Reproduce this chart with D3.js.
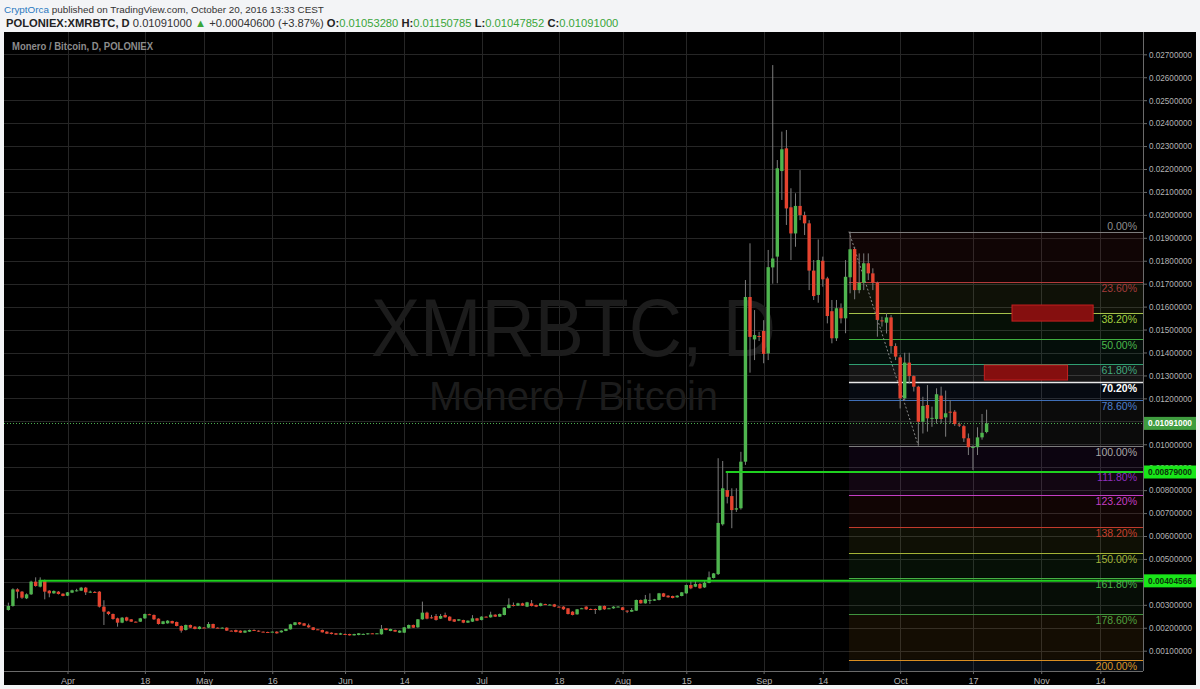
<!DOCTYPE html>
<html><head><meta charset="utf-8">
<script src="https://cdn.jsdelivr.net/npm/d3@7"></script>
<style>
html,body{margin:0;padding:0;background:#f3f4f6;}
svg{display:block;font-family:"Liberation Sans",Arial,sans-serif;}
</style></head><body>
<svg id="c" width="1200" height="689"></svg>
<script>
// ---------- DATA ----------
const firstCandleDate = "2016-03-19"; // daily candles, one per day
const openV = [
2.775e-3,2.949e-3,3.675e-3,3.574e-3,3.283e-3,3.457e-3,4.010e-3,3.792e-3,4.053e-3,3.617e-3,
3.501e-3,3.574e-3,3.486e-3,3.399e-3,3.530e-3,3.603e-3,3.617e-3,3.748e-3,3.545e-3,3.560e-3,
3.574e-3,2.920e-3,2.702e-3,2.600e-3,2.411e-3,2.222e-3,2.455e-3,2.368e-3,2.266e-3,2.266e-3,
2.411e-3,2.590e-3,2.557e-3,2.397e-3,2.164e-3,2.193e-3,2.295e-3,2.252e-3,2.077e-3,1.903e-3,
2.121e-3,2.048e-3,1.946e-3,2.010e-3,2.004e-3,2.164e-3,2.004e-3,2.000e-3,2.004e-3,1.874e-3,
1.903e-3,1.874e-3,1.787e-3,1.830e-3,1.903e-3,1.874e-3,1.830e-3,1.816e-3,1.826e-3,1.830e-3,
1.801e-3,1.859e-3,1.932e-3,2.121e-3,2.237e-3,2.193e-3,2.106e-3,2.019e-3,1.932e-3,1.903e-3,
1.830e-3,1.787e-3,1.758e-3,1.699e-3,1.728e-3,1.728e-3,1.670e-3,1.685e-3,1.728e-3,1.714e-3,
1.758e-3,1.754e-3,1.714e-3,1.975e-3,1.859e-3,1.903e-3,1.787e-3,1.787e-3,1.975e-3,2.121e-3,
2.019e-3,2.368e-3,2.659e-3,2.455e-3,2.513e-3,2.397e-3,2.557e-3,2.484e-3,2.368e-3,2.310e-3,
2.339e-3,2.222e-3,2.266e-3,2.411e-3,2.339e-3,2.484e-3,2.455e-3,2.571e-3,2.484e-3,2.557e-3,
2.862e-3,2.993e-3,2.964e-3,3.065e-3,2.920e-3,3.065e-3,2.993e-3,2.949e-3,3.036e-3,3.007e-3,
3.021e-3,2.920e-3,2.920e-3,2.847e-3,2.702e-3,2.586e-3,2.847e-3,2.920e-3,2.818e-3,2.818e-3,
2.775e-3,2.949e-3,2.847e-3,2.847e-3,2.920e-3,2.891e-3,2.746e-3,2.702e-3,2.746e-3,3.211e-3,
3.065e-3,3.211e-3,3.182e-3,3.211e-3,3.501e-3,3.399e-3,3.385e-3,3.327e-3,3.385e-3,3.501e-3,
3.864e-3,3.790e-3,3.910e-3,3.760e-3,3.960e-3,4.170e-3,4.340e-3,6.510e-3,8.000e-3,7.740e-3,
7.150e-3,7.210e-3,9.240e-3,16.420e-3,14.570e-3,14.720e-3,14.940e-3,13.960e-3,17.710e-3,18.180e-3,
21.910e-3,22.900e-3,20.330e-3,19.190e-3,20.390e-3,19.990e-3,19.630e-3,17.570e-3,16.510e-3,18.000e-3,
17.230e-3,15.800e-3,14.620e-3,15.930e-3,15.490e-3,17.280e-3,18.510e-3,16.720e-3,17.040e-3,17.890e-3,
17.450e-3,17.040e-3,15.400e-3,15.300e-3,15.530e-3,14.280e-3,13.790e-3,12.000e-3,13.560e-3,12.970e-3,
12.510e-3,10.980e-3,11.710e-3,11.130e-3,11.100e-3,12.120e-3,11.170e-3,11.420e-3,11.420e-3,10.860e-3,
10.790e-3,10.260e-3,9.870e-3,9.870e-3,10.300e-3,10.5328e-3];
const highV = [
3.094e-3,3.720e-3,3.720e-3,3.600e-3,3.500e-3,4.050e-3,4.198e-3,4.198e-3,4.100e-3,3.640e-3,
3.630e-3,3.600e-3,3.500e-3,3.560e-3,3.660e-3,3.700e-3,3.780e-3,3.780e-3,3.620e-3,3.600e-3,
3.600e-3,3.200e-3,2.720e-3,2.620e-3,2.440e-3,2.470e-3,2.480e-3,2.380e-3,2.280e-3,2.430e-3,
2.620e-3,2.610e-3,2.580e-3,2.410e-3,2.300e-3,2.330e-3,2.310e-3,2.270e-3,2.100e-3,2.140e-3,
2.140e-3,2.070e-3,2.070e-3,2.030e-3,2.250e-3,2.180e-3,2.020e-3,2.020e-3,2.020e-3,1.890e-3,
1.920e-3,1.890e-3,1.890e-3,1.920e-3,1.930e-3,1.890e-3,1.840e-3,1.830e-3,1.840e-3,1.850e-3,
1.890e-3,1.960e-3,2.170e-3,2.250e-3,2.250e-3,2.210e-3,2.180e-3,2.030e-3,1.950e-3,1.920e-3,
1.850e-3,1.800e-3,1.770e-3,1.780e-3,1.750e-3,1.740e-3,1.740e-3,1.770e-3,1.750e-3,1.770e-3,
1.770e-3,1.770e-3,2.121e-3,1.990e-3,1.960e-3,1.920e-3,1.890e-3,2.030e-3,2.140e-3,2.140e-3,
2.380e-3,3.140e-3,2.700e-3,2.560e-3,2.600e-3,2.600e-3,2.660e-3,2.500e-3,2.380e-3,2.380e-3,
2.350e-3,2.320e-3,2.550e-3,2.430e-3,2.500e-3,2.500e-3,2.700e-3,2.590e-3,2.620e-3,2.900e-3,
3.283e-3,3.100e-3,3.090e-3,3.090e-3,3.130e-3,3.210e-3,3.010e-3,3.090e-3,3.050e-3,3.030e-3,
3.040e-3,2.940e-3,2.940e-3,2.860e-3,2.720e-3,2.820e-3,2.870e-3,2.940e-3,2.840e-3,2.840e-3,
2.970e-3,2.970e-3,2.870e-3,2.940e-3,2.940e-3,2.910e-3,2.760e-3,2.860e-3,3.230e-3,3.230e-3,
3.430e-3,3.500e-3,3.260e-3,3.520e-3,3.520e-3,3.420e-3,3.400e-3,3.420e-3,3.560e-3,3.880e-3,
4.050e-3,4.080e-3,3.950e-3,4.030e-3,4.450e-3,4.390e-3,9.390e-3,9.270e-3,8.800e-3,8.080e-3,
8.080e-3,9.670e-3,17.160e-3,18.760e-3,15.850e-3,14.900e-3,15.410e-3,18.470e-3,26.530e-3,22.390e-3,
23.630e-3,23.700e-3,21.160e-3,20.940e-3,21.950e-3,20.140e-3,19.770e-3,18.030e-3,18.930e-3,18.180e-3,
17.300e-3,16.290e-3,16.290e-3,16.140e-3,18.030e-3,19.270e-3,18.610e-3,18.320e-3,18.320e-3,18.320e-3,
17.670e-3,17.090e-3,15.560e-3,15.710e-3,15.630e-3,14.400e-3,13.890e-3,13.990e-3,13.990e-3,13.000e-3,
12.550e-3,12.070e-3,12.580e-3,11.640e-3,12.440e-3,12.510e-3,12.340e-3,11.930e-3,11.490e-3,10.950e-3,
10.850e-3,10.470e-3,9.950e-3,10.740e-3,11.320e-3,11.50785e-3];
const lowV = [
2.746e-3,2.920e-3,3.283e-3,3.260e-3,3.250e-3,3.430e-3,3.790e-3,3.760e-3,3.240e-3,3.330e-3,
3.480e-3,3.450e-3,3.370e-3,3.380e-3,3.510e-3,3.580e-3,3.600e-3,3.428e-3,3.520e-3,3.540e-3,
2.880e-3,2.121e-3,2.550e-3,2.350e-3,2.048e-3,2.200e-3,2.280e-3,2.250e-3,2.240e-3,2.250e-3,
2.390e-3,2.570e-3,2.340e-3,2.140e-3,2.150e-3,2.180e-3,2.180e-3,2.060e-3,1.787e-3,1.880e-3,
1.990e-3,1.930e-3,1.930e-3,1.990e-3,1.990e-3,1.970e-3,1.990e-3,1.980e-3,1.860e-3,1.860e-3,
1.800e-3,1.770e-3,1.770e-3,1.820e-3,1.890e-3,1.820e-3,1.810e-3,1.800e-3,1.810e-3,1.740e-3,
1.790e-3,1.850e-3,1.920e-3,2.100e-3,2.130e-3,2.080e-3,2.000e-3,1.890e-3,1.910e-3,1.790e-3,
1.730e-3,1.710e-3,1.690e-3,1.690e-3,1.710e-3,1.660e-3,1.660e-3,1.670e-3,1.720e-3,1.700e-3,
1.740e-3,1.740e-3,1.700e-3,1.890e-3,1.850e-3,1.820e-3,1.770e-3,1.770e-3,1.960e-3,1.990e-3,
2.000e-3,2.350e-3,2.370e-3,2.400e-3,2.310e-3,2.380e-3,2.440e-3,2.290e-3,2.250e-3,2.290e-3,
2.200e-3,2.210e-3,2.250e-3,2.290e-3,2.320e-3,2.460e-3,2.440e-3,2.470e-3,2.470e-3,2.540e-3,
2.840e-3,2.930e-3,2.950e-3,2.950e-3,2.900e-3,2.930e-3,2.900e-3,2.930e-3,3.010e-3,2.990e-3,
2.900e-3,2.900e-3,2.780e-3,2.580e-3,2.540e-3,2.570e-3,2.830e-3,2.780e-3,2.800e-3,2.600e-3,
2.750e-3,2.780e-3,2.830e-3,2.830e-3,2.900e-3,2.760e-3,2.640e-3,2.690e-3,2.730e-3,3.050e-3,
3.050e-3,3.040e-3,3.170e-3,3.190e-3,3.340e-3,3.310e-3,3.280e-3,3.310e-3,3.370e-3,3.480e-3,
3.680e-3,3.770e-3,3.700e-3,3.740e-3,3.940e-3,4.150e-3,4.300e-3,6.450e-3,7.420e-3,6.340e-3,
7.050e-3,7.150e-3,9.100e-3,13.120e-3,13.670e-3,14.500e-3,13.530e-3,13.670e-3,17.000e-3,17.020e-3,
20.650e-3,19.560e-3,18.030e-3,18.610e-3,19.770e-3,19.120e-3,16.720e-3,16.290e-3,16.170e-3,16.870e-3,
15.270e-3,14.400e-3,14.500e-3,15.270e-3,14.840e-3,16.580e-3,16.320e-3,16.580e-3,16.720e-3,17.160e-3,
16.720e-3,14.690e-3,15.130e-3,14.830e-3,13.960e-3,13.670e-3,11.560e-3,11.900e-3,12.650e-3,12.300e-3,
9.970e-3,10.470e-3,10.550e-3,10.760e-3,10.900e-3,10.910e-3,10.330e-3,10.910e-3,10.800e-3,10.750e-3,
10.100e-3,9.530e-3,8.880e-3,9.530e-3,10.200e-3,10.47852e-3];
const closeV = [
2.949e-3,3.675e-3,3.574e-3,3.312e-3,3.457e-3,4.010e-3,3.821e-3,4.082e-3,3.574e-3,3.501e-3,
3.603e-3,3.472e-3,3.385e-3,3.545e-3,3.632e-3,3.632e-3,3.748e-3,3.545e-3,3.574e-3,3.550e-3,
2.920e-3,2.702e-3,2.600e-3,2.382e-3,2.222e-3,2.440e-3,2.310e-3,2.266e-3,2.262e-3,2.411e-3,
2.600e-3,2.586e-3,2.368e-3,2.164e-3,2.281e-3,2.310e-3,2.193e-3,2.077e-3,1.874e-3,2.121e-3,
2.004e-3,1.946e-3,2.048e-3,2.004e-3,2.164e-3,1.990e-3,2.000e-3,2.004e-3,1.874e-3,1.870e-3,
1.816e-3,1.787e-3,1.874e-3,1.903e-3,1.900e-3,1.830e-3,1.826e-3,1.812e-3,1.830e-3,1.758e-3,
1.874e-3,1.946e-3,2.150e-3,2.237e-3,2.150e-3,2.092e-3,2.019e-3,1.903e-3,1.928e-3,1.801e-3,
1.743e-3,1.728e-3,1.699e-3,1.758e-3,1.724e-3,1.670e-3,1.728e-3,1.758e-3,1.732e-3,1.758e-3,
1.754e-3,1.758e-3,1.946e-3,1.903e-3,1.946e-3,1.830e-3,1.874e-3,2.019e-3,2.121e-3,2.004e-3,
2.368e-3,2.659e-3,2.397e-3,2.450e-3,2.339e-3,2.513e-3,2.455e-3,2.310e-3,2.266e-3,2.368e-3,
2.222e-3,2.310e-3,2.411e-3,2.310e-3,2.484e-3,2.480e-3,2.571e-3,2.484e-3,2.600e-3,2.877e-3,
3.007e-3,2.990e-3,3.065e-3,2.964e-3,3.109e-3,2.949e-3,2.920e-3,3.065e-3,3.030e-3,3.010e-3,
2.920e-3,2.915e-3,2.804e-3,2.600e-3,2.557e-3,2.804e-3,2.850e-3,2.804e-3,2.815e-3,2.775e-3,
2.949e-3,2.804e-3,2.850e-3,2.920e-3,2.924e-3,2.775e-3,2.742e-3,2.775e-3,3.211e-3,3.065e-3,
3.240e-3,3.215e-3,3.240e-3,3.501e-3,3.356e-3,3.327e-3,3.298e-3,3.399e-3,3.545e-3,3.864e-3,
3.720e-3,3.910e-3,3.720e-3,3.960e-3,4.200e-3,4.370e-3,6.570e-3,8.080e-3,7.710e-3,7.130e-3,
7.210e-3,9.240e-3,16.420e-3,14.680e-3,14.760e-3,14.700e-3,13.940e-3,17.720e-3,18.100e-3,22.030e-3,
22.860e-3,20.280e-3,19.190e-3,20.390e-3,19.990e-3,19.630e-3,17.570e-3,16.460e-3,18.030e-3,17.190e-3,
15.590e-3,14.620e-3,15.930e-3,15.490e-3,17.300e-3,18.500e-3,16.720e-3,17.040e-3,17.890e-3,17.450e-3,
17.040e-3,15.420e-3,15.370e-3,15.530e-3,14.280e-3,13.820e-3,12.000e-3,13.560e-3,12.970e-3,12.510e-3,
10.980e-3,11.670e-3,11.130e-3,11.150e-3,12.180e-3,11.100e-3,11.350e-3,11.400e-3,10.880e-3,10.840e-3,
10.260e-3,9.870e-3,9.880e-3,10.300e-3,10.500e-3,10.910e-3];

const yTicks = [0.001,0.002,0.003,0.004,0.005,0.006,0.007,0.008,0.009,0.010,0.011,0.012,0.013,0.014,
  0.015,0.016,0.017,0.018,0.019,0.020,0.021,0.022,0.023,0.024,0.025,0.026,0.027];
const xTickDates = ["2016-04-01","2016-04-18","2016-05-01","2016-05-16","2016-06-01","2016-06-14",
  "2016-07-01","2016-07-18","2016-08-01","2016-08-15","2016-09-01","2016-09-14","2016-10-01",
  "2016-10-17","2016-11-01","2016-11-14"];
const xTickLabels = ["Apr","18","May","16","Jun","14","Jul","18","Aug","15","Sep","14","Oct","17","Nov","14"];

// Fibonacci retracement (from swing high to swing low)
const fibHigh = 0.01927, fibLow = 0.00994;
const fibStartDate = "2016-09-19T18:00", fibEndDate = "2016-10-05T00:00";
const fibLevels = [0,0.236,0.382,0.5,0.618,0.702,0.786,1,1.118,1.232,1.382,1.5,1.618,1.786,2];
const fibLabels = ["0.00%","23.60%","38.20%","50.00%","61.80%","70.20%","78.60%","100.00%",
  "111.80%","123.20%","138.20%","150.00%","161.80%","178.60%","200.00%"];

// horizontal support lines
const supportValues = [0.00404566, 0.00879];
const supportStart = ["2016-03-25T18:00","2016-08-23T16:00"];
const lastPrice = 0.01091;

// red target boxes
const boxStart = ["2016-10-25T14:00","2016-10-19T12:00"];
const boxEnd   = ["2016-11-12T10:00","2016-11-06T19:00"];
const boxTop   = [0.01607, 0.01345];
const boxBottom= [0.01537, 0.01280];

// ---------- STYLE ----------
const fibLineColors = ["#7c7c7c","#b23a3a","#a6c24a","#3fae3f","#2f9f72","#e8e8e8","#3f6fb8","#7c7c7c",
  "#8a2db3","#c33ec3","#c23a2c","#a4b236","#45b045","#3f943f","#d98e22"];
const fibTextColors = ["#8e8e8e","#a43c3c","#a3cf3f","#4cb94c","#42a97f","#ffffff","#4d7fcc","#a8a8a8",
  "#8e2fbf","#c43fc4","#c8402f","#a4b33a","#4cb34c","#4fa03f","#d99426"];
const UP = "#4fb54f", DOWN = "#e5432f", WICK = "#7d7d7d";

// ---------- LAYOUT ----------
const svg = d3.select("#c");
const plot = {l:4, t:32, r:1143, b:671};
const panel = {l:4, t:32, r:1196, b:685};
const parseD = d3.utcParse("%Y-%m-%d");
const parseDT = d3.utcParse("%Y-%m-%dT%H:%M");

const x = d3.scaleUtc()
  .domain([new Date(Date.UTC(2016,2,18,1)), new Date(Date.UTC(2016,10,23,9))])
  .range([plot.l, plot.r]);
const y = d3.scaleLinear().domain([0.001,0.027]).range([650.7,54.3]);

const start = parseD(firstCandleDate);
const candles = openV.map((o,i)=>({date:d3.utcDay.offset(start,i), o, h:highV[i], l:lowV[i], c:closeV[i]}));

// header
const t1 = svg.append("text").attr("x",4).attr("y",12.5).attr("font-size",9.9);
t1.append("tspan").attr("fill","#2a78c0").text("CryptOrca");
t1.append("tspan").attr("fill","#333").text(" published on TradingView.com, October 20, 2016 13:33 CEST");
const t2 = svg.append("text").attr("x",6).attr("y",26.5).attr("font-size",11.2);
t2.append("tspan").attr("fill","#222").attr("font-weight","bold").text("POLONIEX:XMRBTC, D");
t2.append("tspan").attr("fill","#333").text(" 0.01091000 ");
t2.append("tspan").attr("fill","#3aa63a").text("▲");
t2.append("tspan").attr("fill","#333").text(" +0.00040600 (+3.87%) ");
[["O:","0.01053280 "],["H:","0.01150785 "],["L:","0.01047852 "],["C:","0.01091000"]].forEach(([k,v])=>{
  t2.append("tspan").attr("fill","#222").attr("font-weight","bold").text(k);
  t2.append("tspan").attr("fill","#3aa63a").text(v);
});

// panel
svg.append("rect").attr("x",panel.l).attr("y",panel.t).attr("width",panel.r-panel.l).attr("height",panel.b-panel.t).attr("fill","#000");

svg.append("defs").append("clipPath").attr("id","pc").append("rect")
  .attr("x",plot.l).attr("y",plot.t).attr("width",plot.r-plot.l).attr("height",plot.b-plot.t);
const g = svg.append("g").attr("clip-path","url(#pc)");

// grid
g.selectAll("line.hg").data(yTicks).join("line").attr("class","hg")
  .attr("x1",plot.l).attr("x2",plot.r).attr("y1",d=>Math.round(y(d))+0.5).attr("y2",d=>Math.round(y(d))+0.5)
  .attr("stroke","#262626");
g.selectAll("line.vg").data(xTickDates).join("line").attr("class","vg")
  .attr("y1",plot.t).attr("y2",plot.b).attr("x1",d=>Math.round(x(parseD(d)))+0.5).attr("x2",d=>Math.round(x(parseD(d)))+0.5)
  .attr("stroke","#262626");

// watermark
const cx = (plot.l+plot.r)/2;
g.append("text").attr("x",cx).attr("y",356).attr("text-anchor","middle").attr("font-size",82)
  .attr("fill","#1c1c1c").attr("textLength",405).attr("lengthAdjust","spacingAndGlyphs").text("XMRBTC, D");
g.append("text").attr("x",cx).attr("y",410).attr("text-anchor","middle").attr("font-size",40)
  .attr("fill","#1c1c1c").text("Monero / Bitcoin");

// fib zones
const fx0 = x(parseDT(fibStartDate));
const fibVal = l => fibHigh - l*(fibHigh-fibLow);
for (let i=0;i<fibLevels.length-1;i++){
  const ya = y(fibVal(fibLevels[i])), yb = y(fibVal(fibLevels[i+1]));
  g.append("rect").attr("x",fx0).attr("width",plot.r-fx0).attr("y",ya).attr("height",yb-ya)
    .attr("fill",fibLineColors[i+1]).attr("fill-opacity",0.09);
}
{
  const ya = y(fibVal(2));
  g.append("rect").attr("x",fx0).attr("width",plot.r-fx0).attr("y",ya).attr("height",plot.b-ya)
    .attr("fill","#2a4a6a").attr("fill-opacity",0.18);
}
fibLevels.forEach((l,i)=>{
  const yy = Math.round(y(fibVal(l)))+0.5;
  g.append("line").attr("x1",fx0).attr("x2",plot.r).attr("y1",yy).attr("y2",yy)
    .attr("stroke",fibLineColors[i]).attr("stroke-width", l===0.702?1.6:1);
});
// trend (dotted) line of the fib tool
g.append("line").attr("x1",fx0).attr("y1",y(fibHigh)).attr("x2",x(parseDT(fibEndDate))).attr("y2",y(fibLow))
  .attr("stroke","#8a8a8a").attr("stroke-dasharray","2,2");

// red boxes
boxStart.forEach((s,i)=>{
  const x0=x(parseDT(s)), x1=x(parseDT(boxEnd[i])), y0=y(boxTop[i]), y1=y(boxBottom[i]);
  g.append("rect").attr("x",x0).attr("y",y0).attr("width",x1-x0).attr("height",y1-y0)
    .attr("fill","#850f0f").attr("stroke","#c42020").attr("stroke-width",1);
});

// last price dotted line
g.append("line").attr("x1",plot.l).attr("x2",plot.r).attr("y1",Math.round(y(lastPrice))+0.5).attr("y2",Math.round(y(lastPrice))+0.5)
  .attr("stroke","#4caf50").attr("stroke-dasharray","1,2");

// candles
const cg = g.append("g");
cg.selectAll("line.w").data(candles).join("line").attr("class","w")
  .attr("x1",d=>x(d.date)).attr("x2",d=>x(d.date)).attr("y1",d=>y(d.h)).attr("y2",d=>y(d.l))
  .attr("stroke",WICK).attr("stroke-width",1);
const bw = 3.4;
cg.selectAll("rect.b").data(candles).join("rect").attr("class","b")
  .attr("x",d=>x(d.date)-bw/2).attr("width",bw)
  .attr("y",d=>y(Math.max(d.o,d.c)))
  .attr("height",d=>Math.max(1,Math.abs(y(d.o)-y(d.c))))
  .attr("fill",d=>d.c>=d.o?UP:DOWN);

// support lines
supportValues.forEach((v,i)=>{
  g.append("line").attr("x1",x(parseDT(supportStart[i]))).attr("x2",plot.r).attr("y1",y(v)).attr("y2",y(v))
    .attr("stroke","#1fd01f").attr("stroke-width",2);
});

// fib labels
fibLevels.forEach((l,i)=>{
  const yy = y(fibVal(l));
  g.append("text").attr("x",plot.r-6).attr("y", l===0 ? yy-1.5 : yy+10)
    .attr("text-anchor","end").attr("font-size",10.5).attr("fill",fibTextColors[i])
    .attr("font-weight", l===0.702?"bold":"normal").text(fibLabels[i]);
});

// legend
svg.append("text").attr("x",12).attr("y",50).attr("font-size",11).attr("font-weight","bold")
  .attr("fill","#8c8c8c").attr("textLength",141).attr("lengthAdjust","spacingAndGlyphs")
  .text("Monero / Bitcoin, D, POLONIEX");

// axes lines
svg.append("line").attr("x1",plot.r+0.5).attr("x2",plot.r+0.5).attr("y1",plot.t).attr("y2",plot.b).attr("stroke","#6a6a6a");
svg.append("line").attr("x1",plot.l).attr("x2",plot.r).attr("y1",plot.b+0.5).attr("y2",plot.b+0.5).attr("stroke","#6a6a6a");

// y axis
const ya = svg.append("g").attr("transform",`translate(${plot.r},0)`)
  .call(d3.axisRight(y).tickValues(yTicks).tickFormat(d=>d.toFixed(8)).tickSize(4).tickPadding(2));
ya.select(".domain").remove();
ya.selectAll(".tick line").attr("stroke","#6a6a6a");
ya.selectAll(".tick text").attr("fill","#b4b4b4").attr("font-size",8.8)
  .attr("textLength",43).attr("lengthAdjust","spacingAndGlyphs")
  .attr("font-family","Liberation Sans, Arial, sans-serif");

// x axis
const xa = svg.append("g").attr("transform",`translate(0,${plot.b})`)
  .call(d3.axisBottom(x).tickValues(xTickDates.map(parseD)).tickFormat((d,i)=>xTickLabels[i]).tickSize(3).tickPadding(4));
xa.select(".domain").remove();
xa.selectAll(".tick line").attr("stroke","#6a6a6a");
xa.selectAll(".tick text").attr("fill","#b4b4b4").attr("font-size",9).attr("font-family","Liberation Sans, Arial, sans-serif");

// price label boxes on axis
const boxes = [
  {v:lastPrice, fill:"#3f9c3f", text:"#ffffff"},
  {v:supportValues[1], fill:"#19e619", text:"#0b330b"},
  {v:supportValues[0], fill:"#19e619", text:"#0b330b"}
];
boxes.forEach(b=>{
  const yy = y(b.v);
  svg.append("rect").attr("x",plot.r+1).attr("y",yy-6.5).attr("width",52).attr("height",13).attr("fill",b.fill);
  svg.append("text").attr("x",plot.r+5).attr("y",yy+3).attr("font-size",8.8).attr("font-weight","bold")
    .attr("textLength",44).attr("lengthAdjust","spacingAndGlyphs")
    .attr("fill",b.text).text(b.v.toFixed(8));
});
</script>
</body></html>
